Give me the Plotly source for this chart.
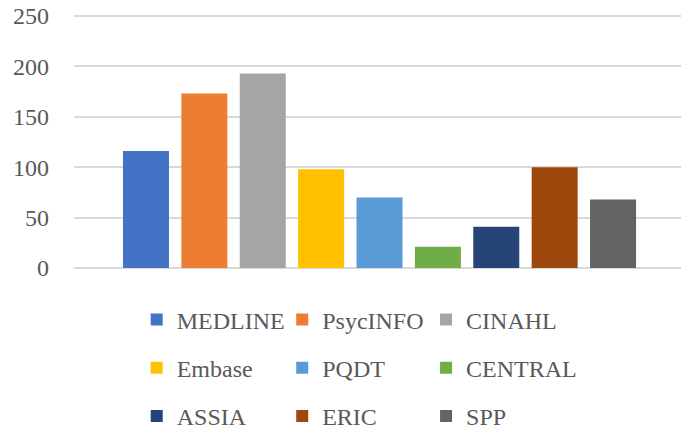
import plotly.graph_objects as go

categories = ["MEDLINE", "PsycINFO", "CINAHL", "Embase", "PQDT", "CENTRAL", "ASSIA", "ERIC", "SPP"]
values = [116, 173, 193, 98, 70, 21, 41, 100, 68]
colors = ["#4472C4", "#ED7D31", "#A5A5A5", "#FFC000", "#5B9BD5", "#70AD47", "#264478", "#9E480E", "#636363"]
y_ticks = [0, 50, 100, 150, 200, 250]

FONT = "Liberation Serif"
TXT = "#595959"
# legend laid out as three columns (one plotly legend per column)
legend_ids = ["legend", "legend2", "legend3"] * 3

fig = go.Figure()
for i, (c, v, col) in enumerate(zip(categories, values, colors)):
    fig.add_trace(go.Bar(
        x=[i], y=[v], name=c, marker=dict(color=col, line=dict(width=0)),
        width=0.788, legend=legend_ids[i], legendgroup=c, hoverinfo="name+y",
    ))

leg_common = dict(orientation="v", y=-0.395, xanchor="left", yanchor="middle",
                  font=dict(family=FONT, size=24, color=TXT), tracegroupgap=14,
                  bgcolor="rgba(0,0,0,0)", borderwidth=0, itemclick=False)

fig.update_layout(
    width=681, height=431,
    margin=dict(l=74, r=0, t=15, b=163, autoexpand=False),
    paper_bgcolor="white", plot_bgcolor="white",
    barmode="overlay",
    font=dict(family=FONT, size=24, color=TXT),
    xaxis=dict(range=[-1.233, 9.164], showticklabels=False, showgrid=False,
               zeroline=False, ticks="", fixedrange=True),
    yaxis=dict(range=[0, 251], tickvals=y_ticks, showgrid=True, gridcolor="#D9D9D9",
               gridwidth=1.5, zeroline=True, zerolinecolor="#D9D9D9", zerolinewidth=1.5,
               ticks="", ticklabelstandoff=24, showline=False,
               tickfont=dict(family=FONT, size=24, color=TXT)),
    legend=dict(x=0.1033, **leg_common),
    legend2=dict(x=0.343, **leg_common),
    legend3=dict(x=0.580, **leg_common),
)

# remove the default 8px page margin so the figure fills the window exactly
fig.write_html("out.html", config={"displayModeBar": False},
               post_script="document.body.style.margin='0';")
